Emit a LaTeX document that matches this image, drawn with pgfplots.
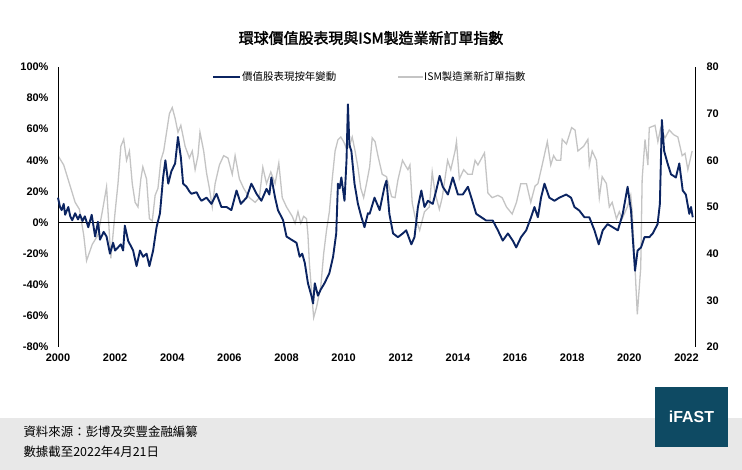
\documentclass[border=0pt]{standalone}
\usepackage{pgfplots}
\pgfplotsset{compat=1.18}
\usepackage{fontspec}
\setmainfont{Liberation Sans}
\newfontfamily\cjk{Noto Sans CJK TC}
\newfontfamily\cjkb{Noto Sans CJK TC}[FakeBold=2]
\definecolor{navy}{HTML}{0B2461}
\definecolor{lgray}{HTML}{C4C4C4}
\definecolor{band}{HTML}{E8E8E8}
\definecolor{logo}{HTML}{0E4A63}
\begin{document}
\begin{tikzpicture}
\useasboundingbox (0bp,0bp) rectangle (742bp,470bp);
\fill[white] (0bp,0bp) rectangle (742bp,470bp);
\fill[band] (0bp,0bp) rectangle (742bp,52bp);
\fill[logo] (655bp,23bp) rectangle (728bp,83bp);
\node[white,font=\fontsize{16}{18}\selectfont\bfseries] at (691.5bp,53bp) {iFAST};
\node[anchor=west,font=\cjk\fontsize{12.5}{14}\selectfont] at (20bp,38bp) {資料來源：彭博及奕豐金融編纂};
\node[anchor=west,font=\cjk\fontsize{12.5}{14}\selectfont] at (20bp,18bp) {數據截至2022年4月21日};
\node[font=\cjkb\fontsize{15}{17}\selectfont] at (371bp,432bp) {環球價值股表現與ISM製造業新訂單指數};
% right axis (gray)
\begin{axis}[at={(58bp,123bp)},anchor=south west,scale only axis,width=637bp,height=280bp,
 xmin=2000,xmax=2022.3,ymin=20,ymax=80,ytick={20,30,...,80},
 axis x line=none,axis y line*=right,y axis line style={black,line width=0.6pt},
 major tick length=0pt,
 yticklabel style={font=\fontsize{11}{12}\selectfont\bfseries,xshift=8bp},
 /pgf/number format/assume math mode=true]
\addplot[lgray,line width=1.3pt] coordinates {
(2000.0,61)(2000.2,59)(2000.4,55)(2000.6,51)(2000.75,49.5)(2000.9,44)(2001.0,38.5)(2001.2,42)(2001.4,44)(2001.55,49)(2001.7,54.3)(2001.85,39)
(2002.0,49)(2002.1,55)(2002.2,63)(2002.3,64.5)(2002.4,60)(2002.5,62)(2002.6,55)(2002.7,51)(2002.8,50)(2002.9,56)(2002.97,58.6)(2003.1,56)(2003.2,47.5)(2003.3,47)(2003.4,52.5)(2003.5,54)(2003.6,60)(2003.7,62)(2003.8,66)(2003.9,70)(2004.0,71.3)(2004.1,69)(2004.2,66)(2004.3,67.5)(2004.45,63)(2004.6,60.5)(2004.7,62)(2004.8,58)(2004.9,61)(2004.97,66)(2005.1,62)(2005.2,57.3)(2005.3,54)(2005.4,50)(2005.5,55)(2005.65,59)(2005.8,61)(2005.95,60.5)(2006.1,57)(2006.2,61)(2006.35,56)(2006.5,54)(2006.7,52)(2006.9,51)(2007.05,52)(2007.17,58.5)(2007.3,55)(2007.45,57.5)(2007.6,55)(2007.73,59.4)(2007.85,52)(2008.0,50)(2008.1,49)(2008.2,48)(2008.3,46.5)(2008.4,49)(2008.5,46.5)(2008.6,48)(2008.7,47.5)(2008.75,44)(2008.8,38)(2008.9,30)(2008.95,26.3)(2009.05,28.5)(2009.2,33)(2009.3,40)(2009.4,45)(2009.5,49)(2009.6,56)(2009.7,62)(2009.8,64.4)(2009.9,65)(2010.0,64)(2010.1,62.5)(2010.2,63)(2010.3,65)(2010.4,62)(2010.5,58.5)(2010.6,54)(2010.7,52)(2010.8,55)(2010.91,58.6)
(2011.0,64.8)(2011.1,64)(2011.2,61)(2011.35,57)(2011.5,56.5)(2011.68,52.2)(2011.8,52)(2011.9,55.8)(2012.06,60)(2012.15,59)(2012.25,58)(2012.32,59)(2012.4,50.9)(2012.5,47.9)(2012.66,45)(2012.83,49)(2013.0,50)(2013.1,57.5)(2013.2,53)(2013.35,49.5)(2013.45,52)(2013.64,60)(2013.75,58)(2013.9,62)(2013.95,64)(2014.05,56)(2014.2,58)(2014.35,57)(2014.5,57)(2014.6,60)(2014.7,59)(2014.93,61.6)(2015.05,53)(2015.2,52)(2015.4,52.5)(2015.55,52)(2015.7,50)(2015.9,48.5)(2016.05,51)(2016.2,55)(2016.4,55)(2016.55,51)(2016.7,54.5)(2016.8,55)(2016.95,59)(2017.13,64)(2017.25,59)(2017.35,61)(2017.45,60)(2017.6,60)(2017.65,64.5)(2017.8,63.5)(2017.98,67)(2018.1,66.5)(2018.2,62)(2018.4,63)(2018.55,64.5)(2018.6,59)(2018.7,62)(2018.85,60)(2018.95,52)(2019.05,56.5)(2019.2,55)(2019.3,50)(2019.4,51)(2019.55,47.5)(2019.65,49)(2019.75,47.5)(2019.93,50)(2020.05,52.5)(2020.1,49)(2020.2,37)(2020.28,27)(2020.4,37)(2020.45,56)(2020.55,64.5)(2020.65,59)(2020.7,67)(2020.9,67.5)(2021.0,64)(2021.1,67)(2021.25,64.8)(2021.4,66.5)(2021.55,65.5)(2021.7,65)(2021.85,61)(2021.95,61.5)(2022.05,58)(2022.2,62)};
\end{axis}
% left axis (blue)
\begin{axis}[at={(58bp,123bp)},anchor=south west,scale only axis,width=637bp,height=280bp,
 xmin=2000,xmax=2022.3,ymin=-80,ymax=100,ytick={-80,-60,...,100},
 xtick={2000,2002,...,2022},
 axis x line*=bottom,x axis line style={draw=none},
 axis y line*=left,y axis line style={black,line width=0.6pt,-},
 major tick length=0pt,clip=false,
 x tick label style={font=\fontsize{11}{12}\selectfont\bfseries},
 xticklabel style={yshift=-3bp},
 xticklabel={\pgfmathprintnumber[1000 sep=]{\tick}},
 yticklabel={\pgfmathprintnumber{\tick}\%},
 yticklabel style={font=\fontsize{11}{12}\selectfont\bfseries,xshift=-6bp},
 /pgf/number format/assume math mode=true]
\draw[black,line width=0.6pt] (axis cs:2000,0) -- (axis cs:2022.3,0);
\addplot[navy,line width=1.9pt,line join=round] coordinates {
(2000.0,16)(2000.07,10)(2000.13,8)(2000.2,12)(2000.25,5)(2000.36,10)(2000.43,4)(2000.5,1.5)(2000.6,6)(2000.7,2)(2000.77,5)(2000.86,1)(2000.94,4)(2001.06,-3)(2001.18,5)(2001.3,-9)(2001.4,0.5)(2001.47,-11)(2001.6,-6)(2001.7,-9)(2001.82,-20)(2001.93,-13)(2002.0,-18)(2002.1,-16)(2002.2,-14)(2002.28,-18)(2002.34,-2)(2002.46,-12)(2002.55,-15)(2002.63,-18)(2002.75,-28)(2002.87,-18)(2002.98,-22)(2003.1,-20)(2003.2,-28)(2003.33,-18)(2003.45,-3)(2003.57,6)(2003.68,29)(2003.76,40)(2003.86,25)(2003.97,33)(2004.1,38)(2004.2,55)(2004.3,42)(2004.38,25)(2004.5,23)(2004.6,20)(2004.67,18.5)(2004.85,19.5)(2004.95,16)(2005.02,14)(2005.2,16)(2005.37,12)(2005.55,18.5)(2005.72,10)(2005.9,10)(2006.07,8)(2006.25,20.6)(2006.4,12)(2006.6,16)(2006.77,25)(2006.95,18.5)(2007.12,14)(2007.3,21.7)(2007.4,18)(2007.47,29)(2007.6,16)(2007.7,8)(2007.88,1.5)(2008.0,-9)(2008.17,-11)(2008.35,-13)(2008.46,-22)(2008.55,-20)(2008.64,-26)(2008.75,-39)(2008.87,-47)(2008.93,-52)(2008.99,-39)(2009.1,-47)(2009.2,-43)(2009.33,-39)(2009.5,-32.5)(2009.63,-22)(2009.74,-7)(2009.8,25)(2009.86,22)(2009.92,29)(2010.03,14)(2010.1,40)(2010.15,76)(2010.2,50)(2010.27,46)(2010.38,25)(2010.5,12)(2010.62,3.6)(2010.73,-3)(2010.85,6)
(2010.91,5.6)(2011.08,16)(2011.26,8)(2011.43,23)(2011.5,27)(2011.6,5.6)(2011.73,-7)(2011.9,-9.4)(2012.07,-7)(2012.19,-5)(2012.37,-14)(2012.48,-9.4)(2012.6,10)(2012.72,20.6)(2012.83,10)(2012.95,14)(2013.12,12)(2013.24,20.6)(2013.36,30)(2013.47,23)(2013.65,18)(2013.82,29)(2014.0,18)(2014.17,18)(2014.35,23)(2014.47,16)(2014.64,5.6)(2014.82,3.4)(2014.99,1.3)(2015.22,1.3)(2015.4,-5)(2015.57,-11.6)(2015.75,-7)(2015.92,-11.6)(2016.04,-16)(2016.21,-9.4)(2016.39,-5)(2016.56,3.4)(2016.68,10)(2016.8,3.4)(2016.91,16)(2017.03,25)(2017.2,16)(2017.38,14)(2017.55,16)(2017.79,18)(2017.96,16)(2018.08,10)(2018.25,7.7)(2018.43,3.4)(2018.6,3.4)(2018.78,-5)(2018.93,-14)(2019.07,-5)(2019.24,-1)(2019.42,-3)(2019.6,-5)(2019.77,5.6)(2019.94,23)(2020.06,7.7)(2020.12,-9.4)(2020.2,-31)(2020.29,-18)(2020.41,-16)(2020.53,-9.4)(2020.7,-9.4)(2020.82,-7)(2020.99,-1)(2021.07,12)(2021.14,66)(2021.22,46)(2021.34,38)(2021.46,31)(2021.63,29)(2021.75,38)(2021.87,20.6)(2021.98,18)(2022.1,5.6)(2022.16,10)(2022.22,3.4)};
\end{axis}
% legend
\draw[navy,line width=1.8pt] (213bp,393bp) -- (240bp,393bp);
\node[anchor=west,font=\cjk\fontsize{10.5}{12}\selectfont,inner sep=1bp] at (241bp,393bp) {價值股表現按年變動};
\draw[lgray,line width=1.3pt] (398bp,393bp) -- (423bp,393bp);
\node[anchor=west,font=\cjk\fontsize{10.5}{12}\selectfont,inner sep=1bp] at (423bp,393bp) {ISM製造業新訂單指數};
\end{tikzpicture}
\end{document}
